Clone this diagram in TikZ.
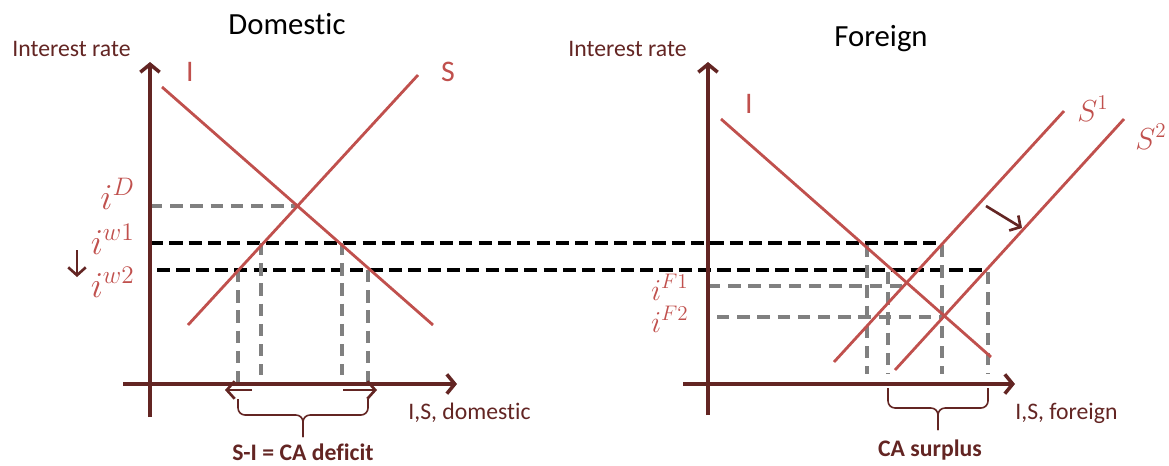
\documentclass[tikz,border=0pt]{standalone}
\usepackage{fontspec}
\setmainfont{Carlito}[Ligatures={NoCommon}]
\usepackage{tikz}
\usetikzlibrary{arrows.meta, calc}
\definecolor{curvered}{RGB}{192, 80, 77}
\definecolor{axisred}{RGB}{99, 37, 35}

\begin{document}
\begin{tikzpicture}[
  x=0.02cm, y=-0.02cm,
  axis/.style={draw=axisred, line width=2pt, -{Straight Barb[length=4.5pt, width=11pt]}},
  curve/.style={draw=curvered, line width=1.6pt},
  world/.style={draw=black, line width=2.6pt, dash pattern=on 7.5pt off 3.5pt},
  guide/.style={draw=gray, line width=2.1pt, dash pattern=on 7pt off 4.5pt},
  move/.style={draw=axisred, line width=1.5pt, -{Straight Barb[length=4.5pt, width=10pt]}},
  brc/.style={draw=axisred, line width=0.9pt, rounded corners=4pt},
  title/.style={font=\fontsize{17.5}{20}\selectfont, inner sep=0pt, anchor=base},
  lbl/.style={text=axisred, font=\fontsize{13.5}{15}\selectfont, inner sep=0pt},
  tag/.style={text=axisred, font=\fontsize{13.5}{15}\selectfont\bfseries, inner sep=0pt, anchor=base},
  cname/.style={text=curvered, font=\fontsize{17}{19}\selectfont, inner sep=0pt},
  rate/.style={text=curvered, font=\fontsize{19.5}{22}\selectfont, inner sep=0pt, anchor=base east}
]
  \useasboundingbox (0,0) rectangle (1169,466);

  % Domestic
  \node[title] (domtitle) at (287,35) {Domestic};
  \node[lbl, anchor=base west] (domrate) at (12,57) {Interest rate};
  \node[lbl, anchor=base west] (domqty) at (408,419) {I,S, domestic};
  \coordinate (dYb) at (150,417);
  \coordinate (dYt) at (150,62);
  \coordinate (dXl) at (123,384);
  \coordinate (dXr) at (457,384);

  \coordinate (dI1) at (162,87);
  \coordinate (dI2) at (433,325);
  \coordinate (dS1) at (188,325);
  \coordinate (dS2) at (418,75);
  \coordinate (dE) at (297,206);

  % world rates
  \draw[world] (150,243) -- (942,243);
  \draw[world] (157,270) -- (988,270);

  \draw[guide] (150,206) -- (dE);
  \draw[guide] (238,270) -- (238,384);
  \draw[guide] (261,243) -- (261,375);
  \draw[guide] (342,243) -- (342,375);
  \draw[guide] (368,270) -- (368,384);

  \draw[axis] (dYb) -- (dYt);
  \draw[axis] (dXl) -- (dXr);
  \draw[curve] (dI1) -- (dI2);
  \draw[curve] (dS1) -- (dS2);
  \node[cname, anchor=base] (dIlbl) at (190,82) {I};
  \node[cname, anchor=base] (dSlbl) at (448,82) {S};

  \node[rate] (iD) at (135,209) {$i^{D}$};
  \node[rate] (iw1) at (135,254) {$i^{w1}$};
  \node[rate] (iw2) at (135,297) {$i^{w2}$};
  \coordinate (dn1) at (77,250);
  \coordinate (dn2) at (77,277);
  \draw[move] (dn1) -- (dn2);

  \coordinate (dL1) at (252,390);
  \coordinate (dL2) at (225,390);
  \coordinate (dR1) at (343,390);
  \coordinate (dR2) at (377,390);
  \draw[move] (dL1) -- (dL2);
  \draw[move] (dR1) -- (dR2);

  \draw[brc] (238,399) |- (303,415) -- (303,437);
  \draw[brc] (368,399) |- (303,415) -- (303,437);
  \node[tag] (deficit) at (303,460) {S-I = CA deficit};

  % Foreign
  \node[title] (fortitle) at (881,47) {Foreign};
  \node[lbl, anchor=base west] (forrate) at (568,57) {Interest rate};
  \node[lbl, anchor=base west] (forqty) at (1015,419) {I,S, foreign};
  \coordinate (fYb) at (708,415);
  \coordinate (fYt) at (708,62);
  \coordinate (fXl) at (683,384);
  \coordinate (fXr) at (1015,384);

  \coordinate (fI1) at (721,119);
  \coordinate (fI2) at (991,357);
  \coordinate (fSa1) at (834,362);
  \coordinate (fSa2) at (1064,111);
  \coordinate (fSb1) at (895,370);
  \coordinate (fSb2) at (1124,119);
  \coordinate (fE1) at (907,286);
  \coordinate (fE2) at (943,317);

  \draw[guide] (708,286) -- (fE1);
  \draw[guide] (717,317) -- (fE2);
  \draw[guide] (867,245) -- (867,374);
  \draw[guide] (888,272) -- (888,374);
  \draw[guide] (942,245) -- (942,374);
  \draw[guide] (988,272) -- (988,374);

  \draw[axis] (fYb) -- (fYt);
  \draw[axis] (fXl) -- (fXr);
  \draw[curve] (fI1) -- (fI2);
  \draw[curve] (fSa1) -- (fSa2);
  \draw[curve] (fSb1) -- (fSb2);
  \node[cname, anchor=base] (fIlbl) at (749,113) {I};
  \node[rate, anchor=base west, font=\fontsize{18}{20}\selectfont] (fS1lbl) at (1077,121) {$S^{1}$};
  \node[rate, anchor=base west, font=\fontsize{18}{20}\selectfont] (fS2lbl) at (1135,149) {$S^{2}$};

  \coordinate (sh1) at (986,206);
  \coordinate (sh2) at (1022,228);
  \draw[move] (sh1) -- (sh2);

  \node[rate, font=\fontsize{18}{20}\selectfont] (iF1) at (689,300) {$i^{F1}$};
  \node[rate, font=\fontsize{18}{20}\selectfont] (iF2) at (689,332) {$i^{F2}$};

  \draw[brc] (888,388) |- (938,408) -- (938,430);
  \draw[brc] (988,388) |- (938,408) -- (938,430);
  \node[tag] (surplus) at (930,456) {CA surplus};
\end{tikzpicture}
\end{document}
